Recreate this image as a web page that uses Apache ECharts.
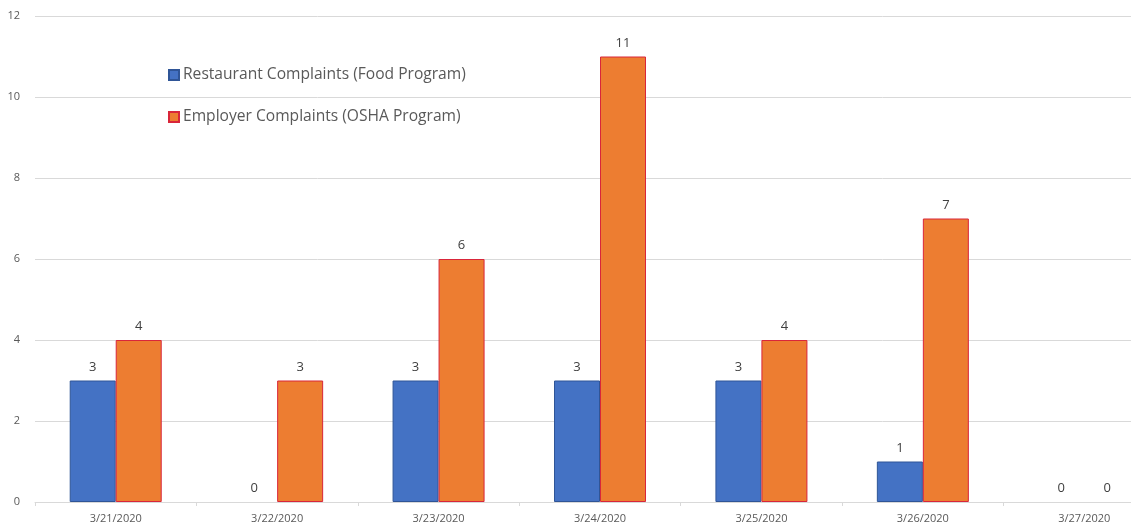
<!DOCTYPE html>
<html><head><meta charset="utf-8">
<style>html,body{margin:0;padding:0;background:#fff;overflow:hidden;width:1131px;height:526px}#c{width:1170px;height:526px}</style>
<script src="https://cdn.jsdelivr.net/npm/echarts@6/dist/echarts.min.js"></script>
</head><body><div id="c"></div>
<script>
const categories = ['3/21/2020','3/22/2020','3/23/2020','3/24/2020','3/25/2020','3/26/2020','3/27/2020'];
const restaurant = [3,0,3,3,3,1,0];
const employer = [4,3,6,11,4,7,0];
const seriesNames = ['Restaurant Complaints (Food Program)','Employer Complaints (OSHA Program)'];
const font = '"Open Sans", sans-serif';
const chart = echarts.init(document.getElementById('c'));
const lbl = {show:true, position:'top', distance:7, color:'#404040', fontSize:13, fontFamily:font};
const toItems = arr => arr.map(v => v === 0 ? {value:v, itemStyle:{borderWidth:0, opacity:1}} : v);
chart.setOption({
  animation:false,
  textStyle:{fontFamily:font},
  grid:{left:35, top:16, right:5, height:486, containLabel:false},
  legend:{orient:'vertical', left:163, top:62, itemGap:26, itemWidth:10, itemHeight:10,
    icon:'rect', textStyle:{fontSize:15.6, color:'#595959', fontFamily:font, padding:[0,0,0,-1]},
    data:seriesNames},
  xAxis:{type:'category', data:categories,
    axisLine:{lineStyle:{color:'#d9d9d9'}},
    axisTick:{show:true, length:4, lineStyle:{color:'#d9d9d9'}},
    axisLabel:{color:'#595959', fontSize:11, margin:11, fontFamily:font}},
  yAxis:{type:'value', min:0, max:12, interval:2,
    axisLine:{show:false}, axisTick:{show:false},
    splitLine:{lineStyle:{color:'#d9d9d9'}},
    axisLabel:{color:'#595959', fontSize:11, margin:15, fontFamily:font}},
  series:[
    {name:seriesNames[0], type:'bar', data:toItems(restaurant), barWidth:46, barGap:'0%',
      itemStyle:{color:'#4472C4', borderColor:'#2F5597', borderWidth:1}, label:lbl},
    {name:seriesNames[1], type:'bar', data:toItems(employer), barWidth:46, barGap:'0%',
      itemStyle:{color:'#ED7D31', borderColor:'#D9263A', borderWidth:1}, label:lbl}
  ]
});
</script></body></html>
